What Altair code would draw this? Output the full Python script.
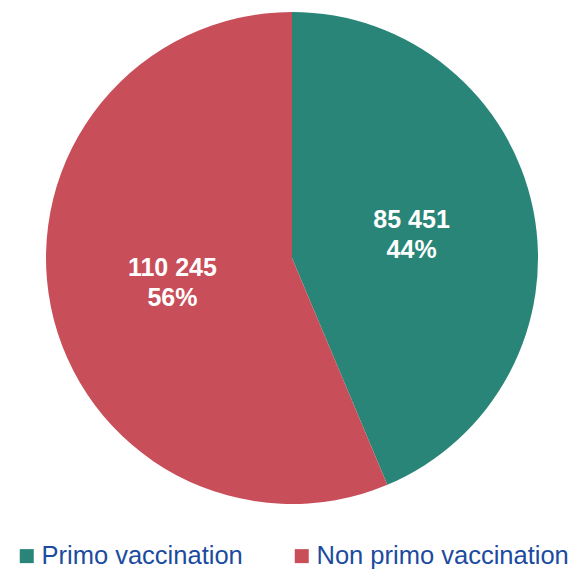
import altair as alt
import pandas as pd

categories = ["Primo vaccination", "Non primo vaccination"]
values = [85451, 110245]
value_labels = ["85 451", "110 245"]
percent_labels = ["44%", "56%"]
colors = ["#288577", "#c84e5a"]

df = pd.DataFrame({
    "category": categories,
    "value": values,
    "order": list(range(len(categories))),
    "label": [f"{v}\n{p}" for v, p in zip(value_labels, percent_labels)],
})

base = alt.Chart(df).encode(
    theta=alt.Theta("value:Q", stack=True),
    order=alt.Order("order:Q"),
    x=alt.value(284),
    y=alt.value(250),
)

arcs = base.mark_arc(radius=246, strokeWidth=0).encode(
    color=alt.Color(
        "category:N",
        sort=categories,
        scale=alt.Scale(domain=categories, range=colors),
        legend=alt.Legend(
            title=None,
            orient="none",
            direction="horizontal",
            legendX=6,
            legendY=535,
            symbolType="square",
            symbolSize=196,
            symbolStrokeWidth=0,
            symbolOpacity=1,
            labelFontSize=25.5,
            labelFont="Liberation Sans",
            labelColor="#1b4ba0",
            labelOffset=2,
            columnPadding=46,
            labelLimit=400,
        ),
    )
)

texts = base.mark_text(
    radius=122,
    fontSize=25,
    fontWeight="bold",
    font="Liberation Sans",
    color="white",
    lineBreak="\n",
    lineHeight=30,
    align="center",
    baseline="middle",
    dy=-14,
).encode(text="label:N")

chart = (
    alt.layer(arcs, texts)
    .properties(width=540, height=520, padding=0)
    .configure_view(stroke=None)
)

chart.save("out.html", embed_options={"renderer": "svg", "actions": False})
